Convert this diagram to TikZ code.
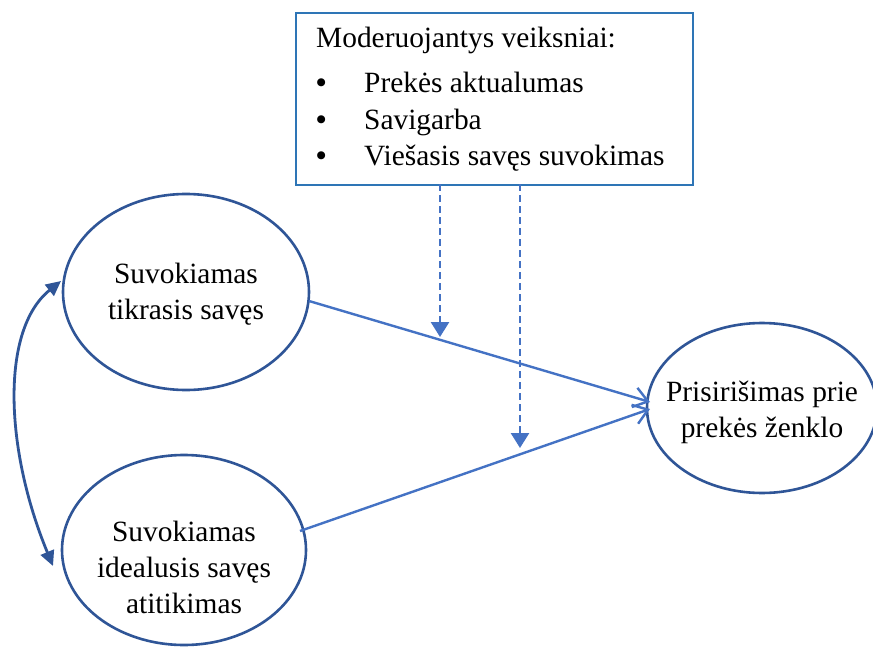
\documentclass[tikz,border=0pt]{standalone}
\usepackage{fontspec}
\setmainfont{Liberation Serif}
\usetikzlibrary{arrows.meta}
\definecolor{ellblue}{HTML}{2F5597}
\definecolor{lineblue}{HTML}{4472C4}
\definecolor{boxblue}{HTML}{2E75B6}
\begin{document}
\begin{tikzpicture}[x=1pt,y=-1pt,
  every node/.style={font=\fontsize{29.4}{36}\selectfont},
  concept/.style={draw=ellblue,line width=2.6pt},
  path/.style={lineblue,line width=2.4pt,-{Straight Barb[length=14pt,width=20pt,line width=2.4pt]}},
  moder/.style={lineblue,line width=2.6pt,dash pattern=on 7pt off 4pt,-{Triangle[length=15pt,width=18pt]}},
  corr/.style={ellblue,line width=2.8pt,{Triangle[length=15pt,width=14pt]}-{Triangle[length=15pt,width=14pt]}},
  bul/.style={anchor=base west,inner sep=0pt,font=\fontsize{29.4}{36}\selectfont\bfseries}]
\useasboundingbox (0,0) rectangle (873,650);
\fill[white] (0,0) rectangle (873,650);
% concepts
\draw[concept] (186,292) ellipse [x radius=123,y radius=98];
\node[align=center] (real) at (186,294) {Suvokiamas\\tikrasis savęs};
\draw[concept] (184,550) ellipse [x radius=122,y radius=95];
\node[align=center] (ideal) at (184,567) {Suvokiamas\\idealusis savęs\\atitikimas};
\draw[concept] (762,408) ellipse [x radius=115,y radius=85];
\node[align=center] (attach) at (762,412) {Prisirišimas prie\\prekės ženklo};
% moderators box
\node[draw=boxblue,line width=2.4pt,minimum width=397pt,minimum height=172pt,anchor=north west] (mod) at (295,12) {};
\node[anchor=base west,inner sep=0pt] (modtitle) at (316,48) {Moderuojantys veiksniai:};
\node[bul] (b1) at (316,93) {•};
\node[bul] (b2) at (316,130) {•};
\node[bul] (b3) at (316,166) {•};
\node[anchor=base west,inner sep=0pt] (m1) at (364,93) {Prekės aktualumas};
\node[anchor=base west,inner sep=0pt] (m2) at (364,130) {Savigarba};
\node[anchor=base west,inner sep=0pt] (m3) at (364,166) {Viešasis savęs suvokimas};
% paths
\coordinate (r1) at (309,301);
\coordinate (t1) at (650,402);
\coordinate (r2) at (300,531);
\coordinate (t2) at (650,409);
\draw[path] (r1) -- (t1);
\draw[path] (r2) -- (t2);
% moderating effects
\coordinate (ms1) at (440,184);
\coordinate (me1) at (440,337);
\coordinate (ms2) at (520,184);
\coordinate (me2) at (520,448);
\draw[moder] (ms1) -- (me1);
\draw[moder] (ms2) -- (me2);
% correlation
\coordinate (c1) at (61,281);
\coordinate (c2) at (53,566);
\draw[corr] (c1) .. controls (0,330) and (5,450) .. (c2);
\end{tikzpicture}
\end{document}
